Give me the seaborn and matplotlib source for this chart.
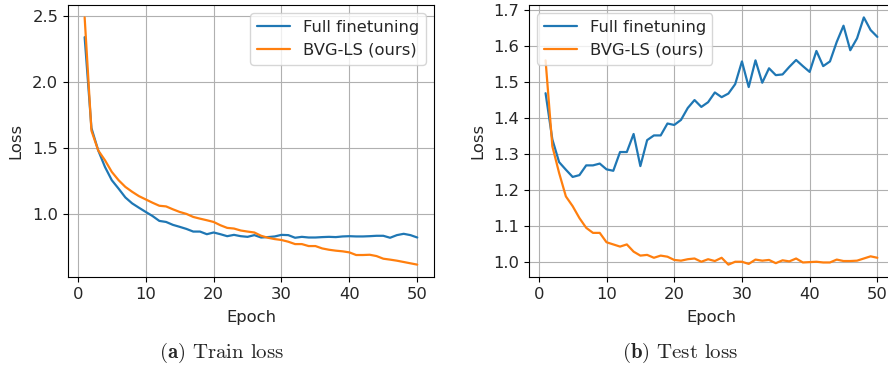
import matplotlib
matplotlib.use("Agg")
import matplotlib.pyplot as plt
import seaborn as sns
import pandas as pd

epochs = list(range(1, 51))

train_full = [2.34, 1.65, 1.48, 1.354, 1.254, 1.19, 1.123, 1.078, 1.045, 1.013,
              0.982, 0.945, 0.937, 0.915, 0.900, 0.884, 0.864, 0.864, 0.844, 0.857,
              0.844, 0.829, 0.839, 0.829, 0.824, 0.837, 0.819, 0.822, 0.827, 0.839,
              0.837, 0.817, 0.824, 0.819, 0.819, 0.822, 0.824, 0.822, 0.827, 0.829,
              0.827, 0.827, 0.829, 0.832, 0.832, 0.817, 0.837, 0.847, 0.837, 0.819]
train_ours = [2.49, 1.63, 1.48, 1.405, 1.317, 1.254, 1.203, 1.166, 1.133, 1.108,
              1.083, 1.060, 1.055, 1.033, 1.013, 0.998, 0.975, 0.962, 0.950, 0.937,
              0.912, 0.892, 0.887, 0.872, 0.864, 0.857, 0.832, 0.817, 0.807, 0.800,
              0.787, 0.769, 0.769, 0.754, 0.754, 0.736, 0.726, 0.719, 0.714, 0.706,
              0.686, 0.686, 0.688, 0.678, 0.658, 0.651, 0.643, 0.633, 0.623, 0.613]

test_full = [1.469, 1.341, 1.278, 1.257, 1.237, 1.242, 1.269, 1.269, 1.274, 1.258,
             1.254, 1.306, 1.306, 1.356, 1.267, 1.339, 1.352, 1.352, 1.385, 1.381,
             1.395, 1.428, 1.450, 1.431, 1.444, 1.471, 1.458, 1.468, 1.494, 1.557,
             1.486, 1.560, 1.498, 1.538, 1.519, 1.521, 1.542, 1.561, 1.544, 1.528,
             1.586, 1.544, 1.557, 1.611, 1.656, 1.588, 1.621, 1.679, 1.644, 1.625]
test_ours = [1.56, 1.322, 1.248, 1.183, 1.156, 1.123, 1.096, 1.082, 1.082, 1.056,
             1.050, 1.044, 1.050, 1.030, 1.019, 1.021, 1.013, 1.019, 1.016, 1.007,
             1.005, 1.009, 1.011, 1.002, 1.009, 1.004, 1.013, 0.994, 1.002, 1.002,
             0.996, 1.008, 1.005, 1.007, 0.998, 1.006, 1.003, 1.011, 1.000, 1.001,
             1.002, 1.000, 1.000, 1.008, 1.004, 1.004, 1.005, 1.011, 1.017, 1.013]

methods = ["Full finetuning", "BVG-LS (ours)"]
captions = [r"$\mathbf{(a)}$ Train loss", r"$\mathbf{(b)}$ Test loss"]


def to_frame(full, ours):
    return pd.DataFrame({
        "Epoch": epochs * 2,
        "Loss": full + ours,
        "Method": [methods[0]] * len(full) + [methods[1]] * len(ours),
    })


sns.set_style("ticks")
plt.rcParams["font.family"] = ["DejaVu Sans"]
plt.rcParams["mathtext.fontset"] = "cm"
plt.rcParams["axes.unicode_minus"] = False

fig = plt.figure(figsize=(8.88, 3.68), dpi=100)
ax1 = fig.add_axes([0.0766, 0.2473, 0.412, 0.739])
ax2 = fig.add_axes([0.5957, 0.2473, 0.411, 0.739])

palette = ["#1f77b4", "#ff7f0e"]
frames = [to_frame(train_full, train_ours), to_frame(test_full, test_ours)]
locs = ["upper right", "upper left"]
fs = 11.8

for ax, df, loc in zip([ax1, ax2], frames, locs):
    sns.lineplot(data=df, x="Epoch", y="Loss", hue="Method", palette=palette,
                 linewidth=1.6, ax=ax)
    ax.grid(True, color="#b0b0b0", linewidth=0.8)
    for s in ax.spines.values():
        s.set_color("black")
        s.set_linewidth(0.8)
    ax.tick_params(labelsize=fs, length=3.5, width=0.8, color="black")
    ax.set_xlabel("Epoch", fontsize=fs, labelpad=6)
    ax.set_ylabel("Loss", fontsize=fs, labelpad=6)
    ax.set_xticks([0, 10, 20, 30, 40, 50])
    ax.legend(loc=loc, fontsize=fs, title=None, framealpha=0.8)

ax1.set_yticks([1.0, 1.5, 2.0, 2.5])

fig.text(0.249, 0.041, captions[0], ha="center", va="center",
         fontsize=15, family="cmr10")
fig.text(0.766, 0.041, captions[1], ha="center", va="center",
         fontsize=15, family="cmr10")

fig.savefig("out.png", dpi=100)
